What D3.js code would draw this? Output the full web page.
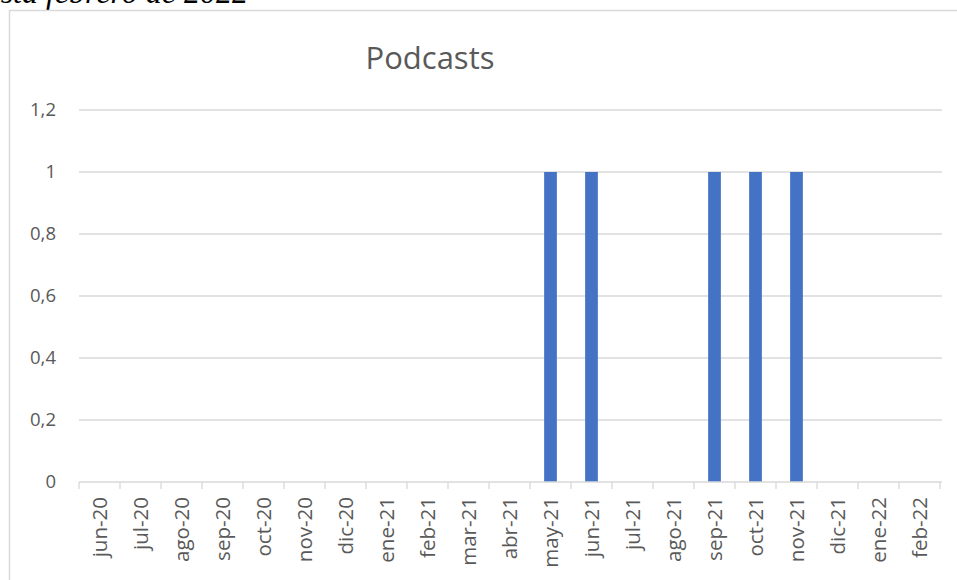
<!DOCTYPE html>
<html><head><meta charset="utf-8">
<script src="https://cdn.jsdelivr.net/npm/d3@7"></script>
<style>body{margin:0;background:#fff;}svg{display:block;}</style>
</head><body>
<script>
const categories = ["jun-20","jul-20","ago-20","sep-20","oct-20","nov-20","dic-20","ene-21","feb-21","mar-21","abr-21","may-21","jun-21","jul-21","ago-21","sep-21","oct-21","nov-21","dic-21","ene-22","feb-22"];
const values = [0,0,0,0,0,0,0,0,0,0,0,1,1,0,0,1,1,1,0,0,0];
const yTicks = [0,0.2,0.4,0.6,0.8,1,1.2];
const title = "Podcasts";
const caption = "hasta febrero de 2022";

const W=957,H=580;
const svg=d3.select("body").append("svg").attr("width",W).attr("height",H);
const font="'Open Sans', 'Liberation Sans', sans-serif";

// caption (cut at the top, as in the reference)
svg.append("text").attr("x",248).attr("y",3).attr("text-anchor","end")
  .attr("font-family","'Liberation Serif', 'DejaVu Serif', serif").attr("font-style","italic")
  .attr("font-size",32).attr("fill","#000").text(caption);

// chart frame
svg.append("rect").attr("x",9.5).attr("y",10.5).attr("width",960).attr("height",600)
  .attr("fill","#fff").attr("stroke","#d9d9d9").attr("stroke-width",1.5);

const x=d3.scaleBand().domain(categories).range([79,940]).paddingInner(0.69).paddingOuter(0.345);
const y=d3.scaleLinear().domain([0,1.2]).range([482,110]);

// gridlines
svg.append("g").selectAll("line").data(yTicks.filter(d=>d>0)).join("line")
  .attr("x1",79).attr("x2",942).attr("y1",d=>y(d)).attr("y2",d=>y(d))
  .attr("stroke","#d9d9d9").attr("stroke-width",1.3);

// y labels
const fmt=d=>String(d).replace(".",",");
svg.append("g").selectAll("text").data(yTicks).join("text")
  .attr("x",56).attr("y",d=>y(d)).attr("dy","0.35em").attr("text-anchor","end")
  .attr("font-family",font).attr("font-size",18.5).attr("fill","#595959").text(fmt);

// bars
svg.append("g").selectAll("rect").data(categories).join("rect")
  .attr("x",d=>x(d)).attr("width",x.bandwidth())
  .attr("y",(d,i)=>y(values[i])).attr("height",(d,i)=>y(0)-y(values[i]))
  .attr("fill","#4472c4");

// x axis
const step=x.step();
const xa=svg.append("g");
xa.append("line").attr("x1",79).attr("x2",942).attr("y1",y(0)).attr("y2",y(0))
  .attr("stroke","#d9d9d9").attr("stroke-width",1.3);
xa.selectAll("line.t").data(d3.range(categories.length+1)).join("line").attr("class","t")
  .attr("x1",i=>79+i*step).attr("x2",i=>79+i*step).attr("y1",y(0)).attr("y2",y(0)+7)
  .attr("stroke","#d9d9d9").attr("stroke-width",1.3);
xa.selectAll("text").data(categories).join("text")
  .attr("transform",d=>`translate(${x(d)+x.bandwidth()/2+7.5},${y(0)+15}) rotate(-90)`)
  .attr("text-anchor","end").attr("font-family",font).attr("font-size",20.5).attr("fill","#595959").text(d=>d);

// title
svg.append("text").attr("x",430).attr("y",69).attr("text-anchor","middle")
  .attr("font-family",font).attr("font-size",31).attr("fill","#595959").text(title);
</script>
</body></html>
